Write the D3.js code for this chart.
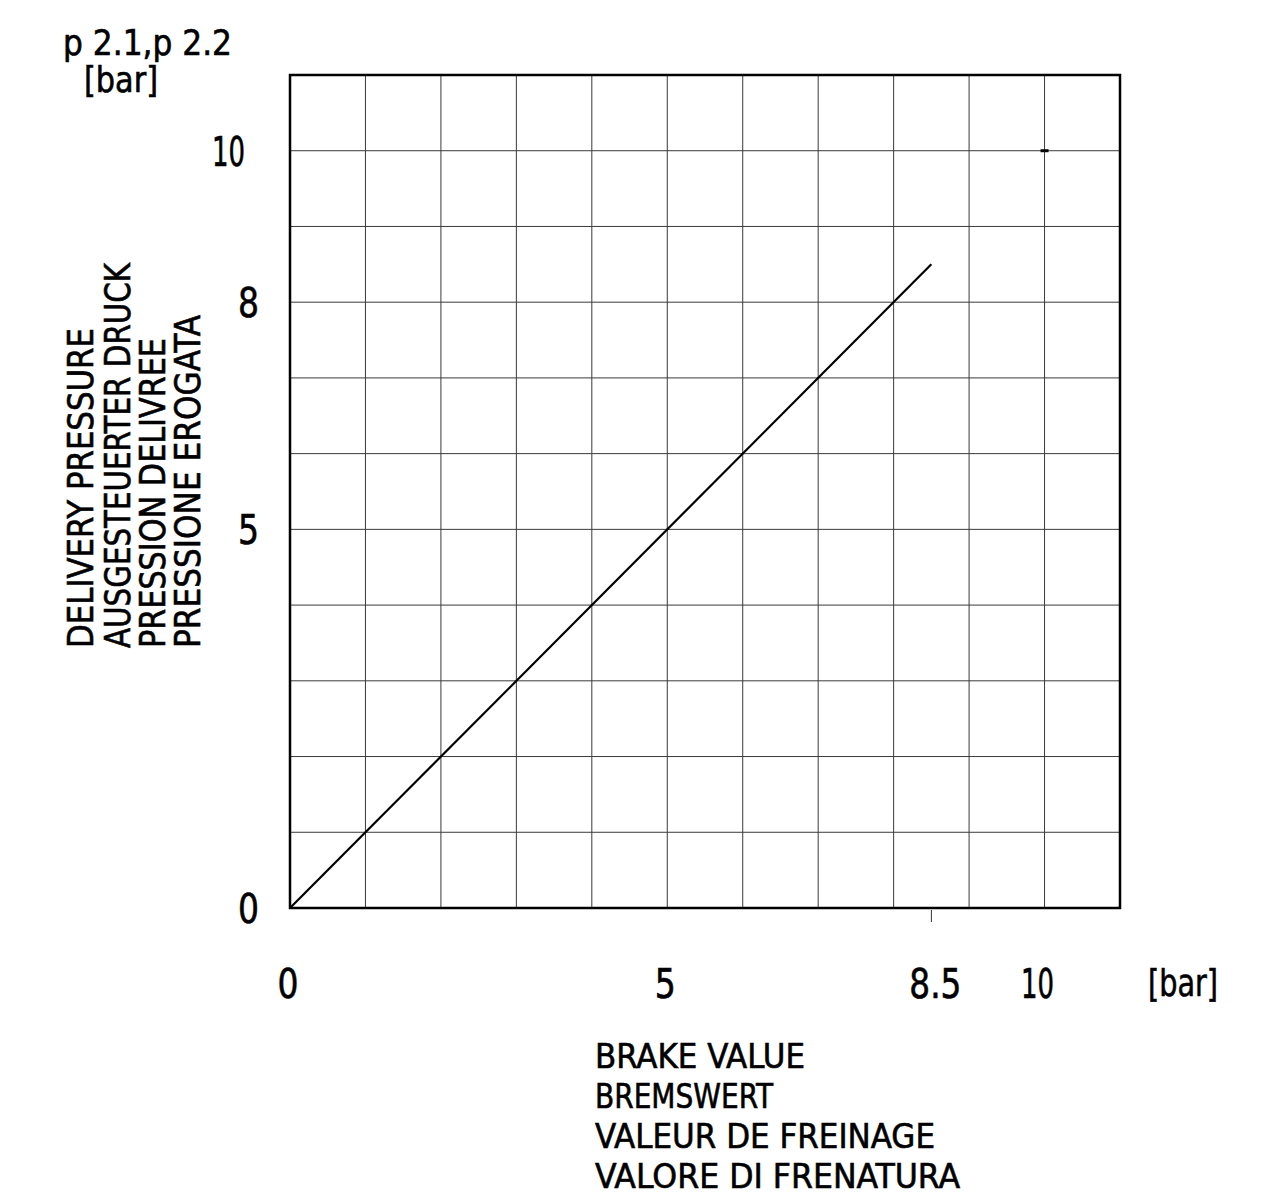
<!DOCTYPE html>
<html><head><meta charset="utf-8">
<script src="https://cdn.jsdelivr.net/npm/d3@7"></script>
<style>
body{margin:0;background:#fff;}
text{font-family:"DejaVu Sans Condensed","DejaVu Sans","Liberation Sans",sans-serif;fill:#000;stroke:#000;stroke-width:0.6px;}
</style></head>
<body>
<svg id="chart" width="1277" height="1196"></svg>
<script>
// ---- data ----
const curveX = [0, 8.5];
const curveY = [0, 8.5];
const xTickValues = [0, 5, 8.5, 10];
const xTickLabels = ["0", "5", "8.5", "10"];
const yTickValues = [0, 5, 8, 10];
const yTickLabels = ["0", "5", "8", "10"];
const gridValues = [1,2,3,4,5,6,7,8,9,10];
const markerPoint = [10, 10];
const yTitleLines = ["DELIVERY PRESSURE", "AUSGESTEUERTER DRUCK", "PRESSION DELIVREE", "PRESSIONE EROGATA"];
const yTitleLengths = [320, 385, 310, 333];
const xTitleLines = ["BRAKE VALUE", "BREMSWERT", "VALEUR DE FREINAGE", "VALORE DI FRENATURA"];
const xTitleLengths = [210, 178, 340, 365];
const unitTop = ["p 2.1,p 2.2", "[bar]"];
const unitX = "[bar]";

const svg = d3.select("#chart");
const x = d3.scaleLinear().domain([0, 11]).range([290, 1120]);
const y = d3.scaleLinear().domain([0, 11]).range([908, 75]);

// grid
svg.append("g").selectAll("line").data(gridValues).join("line")
  .attr("x1", d => x(d)).attr("x2", d => x(d))
  .attr("y1", y(0)).attr("y2", y(11))
  .attr("stroke", "#3a3a3a").attr("stroke-width", 1);
svg.append("g").selectAll("line").data(gridValues).join("line")
  .attr("y1", d => y(d)).attr("y2", d => y(d))
  .attr("x1", x(0)).attr("x2", x(11))
  .attr("stroke", "#3a3a3a").attr("stroke-width", 1);

// frame
svg.append("rect")
  .attr("x", x(0)).attr("y", y(11))
  .attr("width", x(11) - x(0)).attr("height", y(0) - y(11))
  .attr("fill", "none").attr("stroke", "#000").attr("stroke-width", 2.5);

// curve
const pts = curveX.map((v, i) => [v, curveY[i]]);
svg.append("path").datum(pts)
  .attr("d", d3.line().x(d => x(d[0])).y(d => y(d[1])))
  .attr("fill", "none").attr("stroke", "#000").attr("stroke-width", 2.2);

// tick at 8.5 below axis
svg.append("line")
  .attr("x1", x(8.5)).attr("x2", x(8.5))
  .attr("y1", y(0) + 2).attr("y2", y(0) + 14)
  .attr("stroke", "#333").attr("stroke-width", 1);

// small marker at (10,10)
svg.append("line")
  .attr("x1", x(markerPoint[0]) - 4).attr("x2", x(markerPoint[0]) + 4)
  .attr("y1", y(markerPoint[1])).attr("y2", y(markerPoint[1]))
  .attr("stroke", "#000").attr("stroke-width", 3);

// y tick labels
svg.append("g").selectAll("text").data(yTickValues).join("text")
  .attr("x", (d, i) => yTickLabels[i].length > 1 ? 245 : 259)
  .attr("y", d => y(d) + 15)
  .attr("text-anchor", "end")
  .attr("font-size", 41)
  .attr("textLength", (d, i) => yTickLabels[i].length > 1 ? 33 : 21)
  .attr("lengthAdjust", "spacingAndGlyphs")
  .text((d, i) => yTickLabels[i]);

// x tick labels
svg.append("g").selectAll("text").data(xTickValues).join("text")
  .attr("x", (d, i) => x(d) - (xTickLabels[i] === "10" ? 7 : (xTickLabels[i] === "8.5" ? -4 : 2)))
  .attr("y", 998)
  .attr("text-anchor", "middle")
  .attr("font-size", 41)
  .attr("textLength", (d, i) => xTickLabels[i] === "8.5" ? 52 : (xTickLabels[i].length > 1 ? 33 : 21))
  .attr("lengthAdjust", "spacingAndGlyphs")
  .text((d, i) => xTickLabels[i]);

svg.append("text")
  .attr("x", 1183).attr("y", 996)
  .attr("text-anchor", "middle")
  .attr("font-size", 38)
  .attr("textLength", 70).attr("lengthAdjust", "spacingAndGlyphs")
  .text(unitX);

// top-left unit label
svg.append("text")
  .attr("x", 63).attr("y", 55)
  .attr("font-size", 36)
  .attr("textLength", 169).attr("lengthAdjust", "spacingAndGlyphs")
  .text(unitTop[0]);
svg.append("text")
  .attr("x", 84).attr("y", 92)
  .attr("font-size", 36)
  .attr("textLength", 74).attr("lengthAdjust", "spacingAndGlyphs")
  .text(unitTop[1]);

// x title
svg.append("g").selectAll("text").data(xTitleLines).join("text")
  .attr("x", 595)
  .attr("y", (d, i) => 1068 + i * 40)
  .attr("font-size", 34.5)
  .attr("textLength", (d, i) => xTitleLengths[i])
  .attr("lengthAdjust", "spacingAndGlyphs")
  .text(d => d);

// y title (rotated)
const yBase = [93, 130, 165, 200];
svg.append("g").selectAll("text").data(yTitleLines).join("text")
  .attr("transform", (d, i) => `translate(${yBase[i]},648) rotate(-90)`)
  .attr("font-size", 35.5)
  .attr("textLength", (d, i) => yTitleLengths[i])
  .attr("lengthAdjust", "spacingAndGlyphs")
  .text(d => d);
</script>
</body></html>
